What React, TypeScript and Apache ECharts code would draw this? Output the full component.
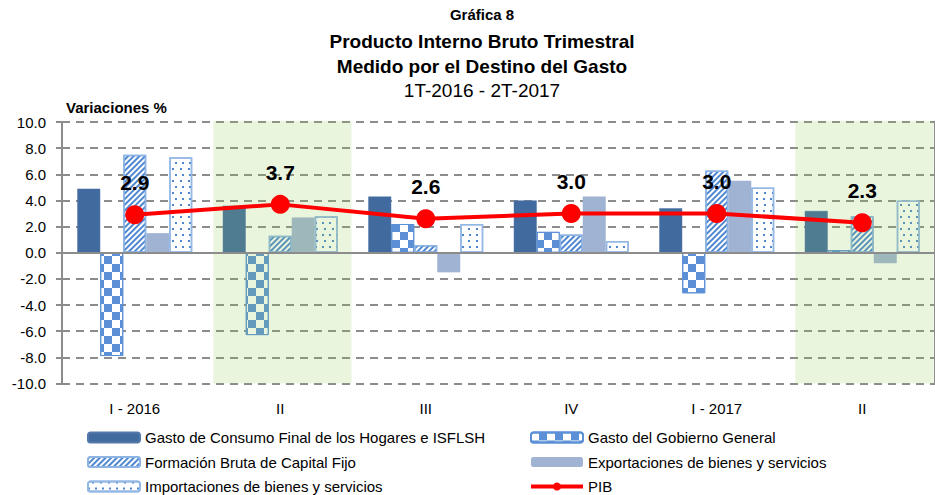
import React, { useEffect, useRef } from "react";
import * as echarts from "echarts";

const categories = ["I - 2016", "II", "III", "IV", "I - 2017", "II"];
const consumo = [4.9, 3.6, 4.3, 4.0, 3.4, 3.2];
const gobierno = [-7.9, -6.3, 2.2, 1.6, -3.1, 0.2];
const fbkf = [7.5, 1.3, 0.6, 1.4, 6.3, 2.8];
const exportaciones = [1.5, 2.7, -1.5, 4.3, 5.5, -0.8];
const importaciones = [7.3, 2.8, 2.2, 0.9, 5.0, 4.0];
const pib = [2.9, 3.7, 2.6, 3.0, 3.0, 2.3];
const shadedCategoryIndexes = [1, 5];

const names = {
  consumo: "Gasto de Consumo Final de los Hogares e ISFLSH",
  gobierno: "Gasto del Gobierno General",
  fbkf: "Formación Bruta de Capital Fijo",
  exportaciones: "Exportaciones de bienes y servicios",
  importaciones: "Importaciones de bienes y servicios",
  pib: "PIB",
};

const FONT = "'Liberation Sans', Arial, Helvetica, sans-serif";

export default function App() {
  const ref = useRef<HTMLDivElement>(null);
  useEffect(() => {
    if (!ref.current) return;
    const chart = echarts.init(ref.current, null, { renderer: "svg" });
    const barBase = { type: "bar", barWidth: 23, barGap: "0%", z: 2 };
    const option: any = {
      animation: false,
      textStyle: { fontFamily: FONT },
      grid: { left: 62, right: -9, top: 122, bottom: 111.5, containLabel: false },
      legend: [
        {
          orient: "vertical",
          left: 87,
          top: 430,
          padding: 0,
          itemWidth: 52,
          itemHeight: 10,
          itemGap: 9.5,
          textStyle: { fontSize: 15, color: "#000", fontFamily: FONT },
          data: [names.consumo, names.fbkf, names.importaciones],
        },
        {
          orient: "vertical",
          left: 529,
          top: 430,
          padding: 0,
          itemWidth: 52,
          itemHeight: 10,
          itemGap: 9.5,
          textStyle: { fontSize: 15, color: "#000", fontFamily: FONT },
          data: [
            names.gobierno,
            names.exportaciones,
            { name: names.pib, lineStyle: { width: 4, color: "#ff0000" } },
          ],
        },
      ],
      xAxis: {
        type: "category",
        data: categories,
        axisLine: { show: false, onZero: false },
        axisTick: { show: false },
        axisLabel: { fontSize: 15, color: "#000", margin: 17, fontFamily: FONT },
        splitLine: {
          show: true,
          interval: (i: number) => i === 4,
          lineStyle: { color: "#8c8c8c", width: 2, type: "solid" },
        },
      },
      yAxis: {
        type: "value",
        min: -10,
        max: 10,
        interval: 2,
        axisLine: { show: true, lineStyle: { color: "#8c8c8c", width: 2 } },
        axisTick: { show: true, length: 6, lineStyle: { color: "#8c8c8c", width: 2 } },
        axisLabel: {
          fontSize: 15,
          color: "#000",
          margin: 16,
          fontFamily: FONT,
          formatter: (v: number) => v.toFixed(1),
        },
        splitLine: {
          show: true,
          lineStyle: { color: "#8c8c8c", width: 2, type: [8, 6] },
        },
      },
      series: [
        {
          ...barBase,
          name: names.consumo,
          data: consumo,
          itemStyle: { color: "#416a9f", borderColor: "#5478aa", borderWidth: 0.5, decal: "none" },
          markLine: {
            silent: true,
            symbol: "none",
            label: { show: false },
            lineStyle: { color: "#8c8c8c", width: 2, type: "solid" },
            data: [{ yAxis: 0 }],
          },
        },
        {
          ...barBase,
          name: names.gobierno,
          data: gobierno,
          itemStyle: {
            color: "#ffffff",
            borderColor: "#5b90d6",
            borderWidth: 1,
            decal: {
              symbol: "rect",
              symbolSize: 1,
              color: "#5b90d6",
              dashArrayX: [[7.7, 7.7], [0, 7.7, 7.7, 0]],
              dashArrayY: [7.7, 0],
            },
          },
        },
        {
          ...barBase,
          name: names.fbkf,
          data: fbkf,
          itemStyle: {
            color: "#ffffff",
            borderColor: "#8db4e2",
            borderWidth: 1.5,
            decal: {
              symbol: "rect",
              symbolSize: 1,
              color: "#4f88d0",
              dashArrayX: [1, 0],
              dashArrayY: [2, 1.8],
              rotation: -Math.PI / 4,
            },
          },
        },
        {
          ...barBase,
          name: names.exportaciones,
          data: exportaciones,
          itemStyle: { color: "#a1b3d3", decal: "none" },
        },
        {
          ...barBase,
          name: names.importaciones,
          data: importaciones,
          itemStyle: {
            color: "#ffffff",
            borderColor: "#95b9e5",
            borderWidth: 1.5,
            decal: {
              symbol: "rect",
              symbolSize: 1,
              color: "#4f86cf",
              dashArrayX: [[1.6, 5], [0, 3.3, 1.6, 1.7]],
              dashArrayY: [1.6, 4],
            },
          },
        },
        {
          type: "line",
          name: names.pib,
          data: pib,
          z: 10,
          symbol: "circle",
          symbolSize: 19,
          color: "#ff0000",
          lineStyle: { color: "#ff0000", width: 4 },
          itemStyle: { color: "#ff0000", decal: "none" },
          label: {
            show: true,
            position: "top",
            distance: 12,
            fontSize: 21,
            fontWeight: "bold",
            color: "#000",
            fontFamily: FONT,
            formatter: (p: any) => Number(p.value).toFixed(1),
          },
        },
      ],
    };
    chart.setOption(option);

    const c0 = chart.convertToPixel({ xAxisIndex: 0 }, 0) as number;
    const c1 = chart.convertToPixel({ xAxisIndex: 0 }, 1) as number;
    const bw = c1 - c0;
    const yTop = chart.convertToPixel({ yAxisIndex: 0 }, 10) as number;
    const yBot = chart.convertToPixel({ yAxisIndex: 0 }, -10) as number;
    const shadeRects = shadedCategoryIndexes.map((idx) => {
      const cx = chart.convertToPixel({ xAxisIndex: 0 }, idx) as number;
      return {
        type: "rect",
        z: 3,
        silent: true,
        shape: { x: cx - bw * 0.46, y: yTop - 1, width: bw * 0.95, height: yBot - yTop + 1 },
        style: { fill: "rgba(146,200,80,0.19)" },
      };
    });

    const texts = [
      { text: "Gráfica 8", y: 14, font: `bold 15px ${FONT}` },
      { text: "Producto Interno Bruto Trimestral", y: 41, font: `bold 19px ${FONT}` },
      { text: "Medido por el Destino del Gasto", y: 66, font: `bold 19px ${FONT}` },
      { text: "1T-2016 - 2T-2017", y: 90, font: `19px ${FONT}` },
    ].map((t) => ({
      type: "text",
      x: 482,
      y: t.y,
      style: {
        text: t.text,
        font: t.font,
        fill: "#000",
        textAlign: "center",
        textVerticalAlign: "middle",
      },
    }));

    chart.setOption({
      graphic: [
        ...shadeRects,
        ...texts,
        {
          type: "text",
          x: 66,
          y: 107,
          style: {
            text: "Variaciones %",
            font: `bold 15px ${FONT}`,
            fill: "#000",
            textAlign: "left",
            textVerticalAlign: "middle",
          },
        },
      ],
    });

    return () => chart.dispose();
  }, []);
  return (
    <div
      ref={ref}
      style={{ position: "fixed", left: 0, top: 0, width: 935, height: 495, background: "#fff" }}
    />
  );
}
